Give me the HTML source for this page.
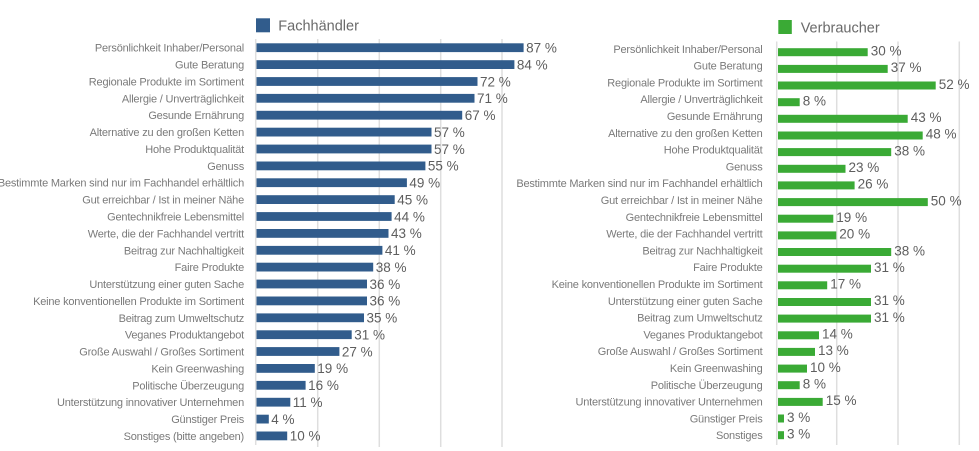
<!DOCTYPE html>
<html><head><meta charset="utf-8"><style>
html,body{margin:0;padding:0;background:#fff;}
svg{display:block;}
.l{font-family:"Liberation Sans",sans-serif;font-size:11px;letter-spacing:-0.2px;fill:#7a7a7a;text-anchor:end;}
.v{font-family:"Liberation Sans",sans-serif;font-size:13.5px;fill:#5e5e5e;}
.g{font-family:"Liberation Sans",sans-serif;font-size:14.5px;fill:#6a6a6a;}
.b{fill:#315c8c;}
.gr{fill:#3aaa35;}
.gl{stroke:#dedede;stroke-width:1.5;}
</style></head><body>
<svg width="979" height="451" viewBox="0 0 979 451" xmlns="http://www.w3.org/2000/svg">
<!-- LEFT PANEL -->
<rect x="256" y="18.3" width="14" height="14" class="b"/>
<text x="278.3" y="30.7" class="g">Fachhändler</text>
<line x1="255.7" y1="39" x2="255.7" y2="445" class="gl"/>
<line x1="317.7" y1="39" x2="317.7" y2="447" class="gl"/>
<line x1="379.3" y1="39" x2="379.3" y2="447" class="gl"/>
<line x1="440.7" y1="39" x2="440.7" y2="447" class="gl"/>
<line x1="502" y1="39" x2="502" y2="447" class="gl"/>

<text x="244" y="51.7" class="l">Persönlichkeit Inhaber/Personal</text>
<text x="244" y="68.6" class="l">Gute Beratung</text>
<text x="244" y="85.5" class="l">Regionale Produkte im Sortiment</text>
<text x="244" y="102.3" class="l">Allergie / Unverträglichkeit</text>
<text x="244" y="119.2" class="l">Gesunde Ernährung</text>
<text x="244" y="136.1" class="l">Alternative zu den großen Ketten</text>
<text x="244" y="153" class="l">Hohe Produktqualität</text>
<text x="244" y="169.9" class="l">Genuss</text>
<text x="244" y="186.7" class="l">Bestimmte Marken sind nur im Fachhandel erhältlich</text>
<text x="244" y="203.6" class="l">Gut erreichbar / Ist in meiner Nähe</text>
<text x="244" y="220.5" class="l">Gentechnikfreie Lebensmittel</text>
<text x="244" y="237.4" class="l">Werte, die der Fachhandel vertritt</text>
<text x="244" y="254.3" class="l">Beitrag zur Nachhaltigkeit</text>
<text x="244" y="271.1" class="l">Faire Produkte</text>
<text x="244" y="288" class="l">Unterstützung einer guten Sache</text>
<text x="244" y="304.9" class="l">Keine konventionellen Produkte im Sortiment</text>
<text x="244" y="321.8" class="l">Beitrag zum Umweltschutz</text>
<text x="244" y="338.7" class="l">Veganes Produktangebot</text>
<text x="244" y="355.5" class="l">Große Auswahl / Großes Sortiment</text>
<text x="244" y="372.4" class="l">Kein Greenwashing</text>
<text x="244" y="389.3" class="l">Politische Überzeugung</text>
<text x="244" y="406.2" class="l">Unterstützung innovativer Unternehmen</text>
<text x="244" y="423.1" class="l">Günstiger Preis</text>
<text x="244" y="439.9" class="l">Sonstiges (bitte angeben)</text>

<rect x="256.5" y="43.3" width="267.1" height="8.8" class="b"/>
<rect x="256.5" y="60.2" width="257.9" height="8.8" class="b"/>
<rect x="256.5" y="77.1" width="221.0" height="8.8" class="b"/>
<rect x="256.5" y="93.9" width="218.0" height="8.8" class="b"/>
<rect x="256.5" y="110.8" width="205.7" height="8.8" class="b"/>
<rect x="256.5" y="127.7" width="175.0" height="8.8" class="b"/>
<rect x="256.5" y="144.6" width="175.0" height="8.8" class="b"/>
<rect x="256.5" y="161.5" width="168.9" height="8.8" class="b"/>
<rect x="256.5" y="178.3" width="150.4" height="8.8" class="b"/>
<rect x="256.5" y="195.2" width="138.2" height="8.8" class="b"/>
<rect x="256.5" y="212.1" width="135.1" height="8.8" class="b"/>
<rect x="256.5" y="229.0" width="132.0" height="8.8" class="b"/>
<rect x="256.5" y="245.9" width="125.9" height="8.8" class="b"/>
<rect x="256.5" y="262.7" width="116.7" height="8.8" class="b"/>
<rect x="256.5" y="279.6" width="110.5" height="8.8" class="b"/>
<rect x="256.5" y="296.5" width="110.5" height="8.8" class="b"/>
<rect x="256.5" y="313.4" width="107.5" height="8.8" class="b"/>
<rect x="256.5" y="330.3" width="95.2" height="8.8" class="b"/>
<rect x="256.5" y="347.1" width="82.9" height="8.8" class="b"/>
<rect x="256.5" y="364.0" width="58.3" height="8.8" class="b"/>
<rect x="256.5" y="380.9" width="49.1" height="8.8" class="b"/>
<rect x="256.5" y="397.8" width="33.8" height="8.8" class="b"/>
<rect x="256.5" y="414.7" width="12.3" height="8.8" class="b"/>
<rect x="256.5" y="431.5" width="30.7" height="8.8" class="b"/>

<text x="526.1" y="52.5" class="v">87 %</text>
<text x="516.9" y="69.4" class="v">84 %</text>
<text x="480.0" y="86.3" class="v">72 %</text>
<text x="477.0" y="103.1" class="v">71 %</text>
<text x="464.7" y="120.0" class="v">67 %</text>
<text x="434.0" y="136.9" class="v">57 %</text>
<text x="434.0" y="153.8" class="v">57 %</text>
<text x="427.9" y="170.7" class="v">55 %</text>
<text x="409.4" y="187.5" class="v">49 %</text>
<text x="397.2" y="204.4" class="v">45 %</text>
<text x="394.1" y="221.3" class="v">44 %</text>
<text x="391.0" y="238.2" class="v">43 %</text>
<text x="384.9" y="255.1" class="v">41 %</text>
<text x="375.7" y="271.9" class="v">38 %</text>
<text x="369.5" y="288.8" class="v">36 %</text>
<text x="369.5" y="305.7" class="v">36 %</text>
<text x="366.5" y="322.6" class="v">35 %</text>
<text x="354.2" y="339.5" class="v">31 %</text>
<text x="341.9" y="356.3" class="v">27 %</text>
<text x="317.3" y="373.2" class="v">19 %</text>
<text x="308.1" y="390.1" class="v">16 %</text>
<text x="292.8" y="407.0" class="v">11 %</text>
<text x="271.3" y="423.9" class="v">4 %</text>
<text x="289.7" y="440.7" class="v">10 %</text>

<!-- RIGHT PANEL -->
<rect x="778.3" y="20" width="13.5" height="14" class="gr"/>
<text x="800.7" y="32.3" class="g">Verbraucher</text>
<line x1="776.7" y1="41.5" x2="776.7" y2="445" class="gl"/>
<line x1="836.7" y1="41.5" x2="836.7" y2="445" class="gl"/>
<line x1="898" y1="41.5" x2="898" y2="445" class="gl"/>
<line x1="959.3" y1="41.5" x2="959.3" y2="445" class="gl"/>

<text x="762.5" y="52.8" class="l">Persönlichkeit Inhaber/Personal</text>
<text x="762.5" y="69.6" class="l">Gute Beratung</text>
<text x="762.5" y="86.4" class="l">Regionale Produkte im Sortiment</text>
<text x="762.5" y="103.2" class="l">Allergie / Unverträglichkeit</text>
<text x="762.5" y="120.0" class="l">Gesunde Ernährung</text>
<text x="762.5" y="136.8" class="l">Alternative zu den großen Ketten</text>
<text x="762.5" y="153.6" class="l">Hohe Produktqualität</text>
<text x="762.5" y="170.4" class="l">Genuss</text>
<text x="762.5" y="187.2" class="l">Bestimmte Marken sind nur im Fachhandel erhältlich</text>
<text x="762.5" y="204.0" class="l">Gut erreichbar / Ist in meiner Nähe</text>
<text x="762.5" y="220.8" class="l">Gentechnikfreie Lebensmittel</text>
<text x="762.5" y="237.6" class="l">Werte, die der Fachhandel vertritt</text>
<text x="762.5" y="254.4" class="l">Beitrag zur Nachhaltigkeit</text>
<text x="762.5" y="271.2" class="l">Faire Produkte</text>
<text x="762.5" y="288.0" class="l">Keine konventionellen Produkte im Sortiment</text>
<text x="762.5" y="304.8" class="l">Unterstützung einer guten Sache</text>
<text x="762.5" y="321.6" class="l">Beitrag zum Umweltschutz</text>
<text x="762.5" y="338.4" class="l">Veganes Produktangebot</text>
<text x="762.5" y="355.2" class="l">Große Auswahl / Großes Sortiment</text>
<text x="762.5" y="372.0" class="l">Kein Greenwashing</text>
<text x="762.5" y="388.8" class="l">Politische Überzeugung</text>
<text x="762.5" y="405.6" class="l">Unterstützung innovativer Unternehmen</text>
<text x="762.5" y="422.4" class="l">Günstiger Preis</text>
<text x="762.5" y="439.2" class="l">Sonstiges</text>

<rect x="778" y="48.2" width="89.7" height="8" class="gr"/>
<rect x="778" y="64.9" width="109.7" height="8" class="gr"/>
<rect x="778" y="81.5" width="157.7" height="8" class="gr"/>
<rect x="778" y="98.2" width="21.7" height="8" class="gr"/>
<rect x="778" y="114.8" width="129.7" height="8" class="gr"/>
<rect x="778" y="131.5" width="144.7" height="8" class="gr"/>
<rect x="778" y="148.1" width="113.2" height="8" class="gr"/>
<rect x="778" y="164.8" width="67.5" height="8" class="gr"/>
<rect x="778" y="181.4" width="76.6" height="8" class="gr"/>
<rect x="778" y="198.1" width="149.8" height="8" class="gr"/>
<rect x="778" y="214.7" width="55.3" height="8" class="gr"/>
<rect x="778" y="231.4" width="58.3" height="8" class="gr"/>
<rect x="778" y="248.0" width="113.2" height="8" class="gr"/>
<rect x="778" y="264.7" width="93" height="8" class="gr"/>
<rect x="778" y="281.3" width="49.2" height="8" class="gr"/>
<rect x="778" y="298.0" width="93" height="8" class="gr"/>
<rect x="778" y="314.6" width="93" height="8" class="gr"/>
<rect x="778" y="331.3" width="41" height="8" class="gr"/>
<rect x="778" y="347.9" width="37" height="8" class="gr"/>
<rect x="778" y="364.6" width="29" height="8" class="gr"/>
<rect x="778" y="381.2" width="21.7" height="8" class="gr"/>
<rect x="778" y="397.9" width="44.7" height="8" class="gr"/>
<rect x="778" y="414.5" width="6" height="8" class="gr"/>
<rect x="778" y="431.2" width="6" height="8" class="gr"/>

<text x="870.7" y="55.5" class="v">30 %</text>
<text x="890.7" y="72.1" class="v">37 %</text>
<text x="938.7" y="88.8" class="v">52 %</text>
<text x="802.7" y="105.4" class="v">8 %</text>
<text x="910.7" y="122.1" class="v">43 %</text>
<text x="925.7" y="138.7" class="v">48 %</text>
<text x="894.2" y="155.4" class="v">38 %</text>
<text x="848.5" y="172.0" class="v">23 %</text>
<text x="857.6" y="188.7" class="v">26 %</text>
<text x="930.8" y="205.3" class="v">50 %</text>
<text x="836.3" y="222.0" class="v">19 %</text>
<text x="839.3" y="238.6" class="v">20 %</text>
<text x="894.2" y="255.3" class="v">38 %</text>
<text x="874" y="271.9" class="v">31 %</text>
<text x="830.2" y="288.6" class="v">17 %</text>
<text x="874" y="305.2" class="v">31 %</text>
<text x="874" y="321.9" class="v">31 %</text>
<text x="822" y="338.5" class="v">14 %</text>
<text x="818" y="355.2" class="v">13 %</text>
<text x="810" y="371.8" class="v">10 %</text>
<text x="802.7" y="388.5" class="v">8 %</text>
<text x="825.7" y="405.1" class="v">15 %</text>
<text x="787" y="421.8" class="v">3 %</text>
<text x="787" y="438.4" class="v">3 %</text>
</svg>
</body></html>
